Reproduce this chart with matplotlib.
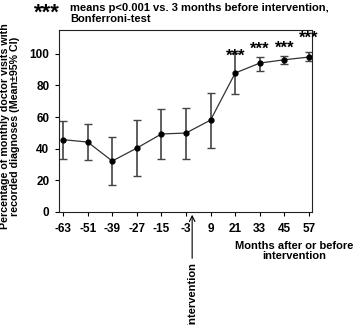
import matplotlib
matplotlib.use('Agg')
import matplotlib.pyplot as plt

plt.rcParams['font.family'] = ['Liberation Sans', 'DejaVu Sans']
plt.rcParams['font.weight'] = 'bold'

# months relative to intervention
months = [-63, -51, -39, -27, -15, -3, 9, 21, 33, 45, 57]
mean_pct = [45.7, 44.2, 32.2, 40.4, 49.3, 49.9, 58.1, 87.8, 94.1, 96.2, 97.9]
ci_low = [33.5, 33.0, 16.8, 22.7, 33.5, 33.5, 40.2, 74.5, 89.3, 93.5, 95.1]
ci_high = [57.6, 55.6, 47.1, 58.1, 64.8, 65.9, 75.2, 100.4, 97.9, 98.7, 101.0]
signif = [False, False, False, False, False, False, False, True, True, True, True]
star_y = [0, 0, 0, 0, 0, 0, 0, 98.5, 103.0, 103.7, 110.0]

yticks = [0, 20, 40, 60, 80, 100]

fig = plt.figure(figsize=(3.58, 3.25), dpi=100)
ax = fig.add_axes([59 / 358, 1 - 212 / 325, 253 / 358, 182 / 325])

err_lo = [m - lo for m, lo in zip(mean_pct, ci_low)]
err_hi = [hi - m for m, hi in zip(mean_pct, ci_high)]
ax.errorbar(months, mean_pct, yerr=[err_lo, err_hi], fmt='o-', color='#333333',
            ecolor='#444444', elinewidth=1.2, capsize=3, capthick=1,
            markersize=3.5, markerfacecolor='black', markeredgecolor='black',
            linewidth=0.9)

for x, y, s in zip(months, star_y, signif):
    if s:
        ax.text(x, y, '***', ha='center', va='center', fontsize=12)

ax.set_xlim(-65, 58.5)
ax.set_ylim(0, 115)
ax.set_xticks(months)
ax.set_xticklabels([str(m) for m in months], fontsize=8.5, fontweight='bold')
ax.set_yticks(yticks)
ax.set_yticklabels([str(t) for t in yticks], fontsize=8.5, fontweight='bold')
ax.tick_params(axis='x', length=3, width=0.8, pad=5)
ax.tick_params(axis='y', length=3, width=0.8, pad=4)
for sp in ax.spines.values():
    sp.set_linewidth(0.8)
    sp.set_color('#222222')

ax.set_ylabel('Percentage of monthly doctor visits with\nrecorded diagnoses (Mean\u00b195% CI)',
              fontsize=7.7, fontweight='bold', linespacing=1.0)
ax.yaxis.set_label_coords(-0.155, 0.47)

fig.text(294 / 358, 1 - 251 / 325, 'Months after or before\nintervention', ha='center',
         va='center', fontsize=8, fontweight='bold', linespacing=1.1)

fig.text(34 / 358, 1 - 13 / 325, '***', ha='left', va='center', fontsize=16)
fig.text(70 / 358, 1 - 13.5 / 325, 'means p<0.001 vs. 3 months before intervention,\nBonferroni-test',
         ha='left', va='center', fontsize=8, fontweight='bold', linespacing=1.15)

# intervention arrow below x axis
ax.annotate('', xy=(0, 0), xycoords='data', xytext=(0, -0.27),
            textcoords=('data', 'axes fraction'),
            arrowprops=dict(arrowstyle='->', color='black', lw=0.8),
            annotation_clip=False)
fig.text(192 / 358, 1 - 262 / 325, 'intervention', rotation=90, ha='center', va='top',
         fontsize=8, fontweight='bold')

fig.savefig('out.png', dpi=100)
